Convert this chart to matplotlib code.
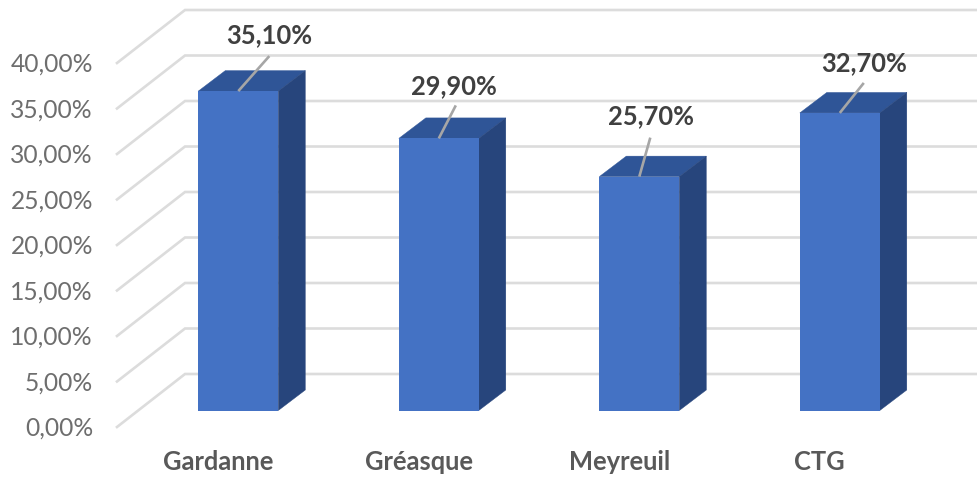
import matplotlib
matplotlib.use("Agg")
import matplotlib.pyplot as plt
from matplotlib.patches import Polygon

categories = ["Gardanne", "Gréasque", "Meyreuil", "CTG"]
values = [35.1, 29.9, 25.7, 32.7]
value_labels = ["35,10%", "29,90%", "25,70%", "32,70%"]
ticks = [0, 5, 10, 15, 20, 25, 30, 35, 40]
tick_labels = ["0,00%", "5,00%", "10,00%", "15,00%", "20,00%", "25,00%", "30,00%", "35,00%", "40,00%"]

W, H = 977, 478
PX_X = 200.5          # pixels per category
PX_Y = 9.1            # pixels per percent
X0, Y0 = 238.3, 410.5  # pixel position of first category at 0 %
FONT = "Lato"

fig = plt.figure(figsize=(W / 100, H / 100), dpi=100, facecolor="white")
ax = fig.add_axes([0, 0, 1, 1])
ax.set_xlim((0 - X0) / PX_X, (W - X0) / PX_X)
ax.set_ylim((Y0 - H) / PX_Y, Y0 / PX_Y)
ax.axis("off")

dx = 27 / PX_X
dy = 20.5 / PX_Y
width = 80 / PX_X
back_shift = (410.5 - 374) / PX_Y
left_shift = (410.5 - 427) / PX_Y
left_x = (117 - X0) / PX_X
corner_x = (185 - X0) / PX_X
right_x = (W - X0) / PX_X

GRID = "#dcdcdc"
for t, lab in zip(ticks, tick_labels):
    ax.plot([left_x, corner_x, right_x], [t + left_shift, t + back_shift, t + back_shift],
            color=GRID, lw=1.9, zorder=1, solid_joinstyle="miter")
    ax.text((93 - X0) / PX_X, t + left_shift - 1.5 / PX_Y, lab, ha="right", va="center",
            fontsize=17.7, color="#6e6e6e", family=FONT, zorder=5)

FRONT, TOP, SIDE = "#4472c4", "#2f5597", "#27457c"
for i, v in enumerate(values):
    l, r = i - width / 2, i + width / 2
    ax.add_patch(Polygon([(l, v), (r, v), (r + dx, v + dy), (l + dx, v + dy)], closed=True,
                         fc=TOP, ec=TOP, lw=0.3, zorder=2))
    ax.add_patch(Polygon([(r, 0), (r + dx, dy), (r + dx, v + dy), (r, v)], closed=True,
                         fc=SIDE, ec=SIDE, lw=0.3, zorder=2))
ax.bar(range(len(values)), values, width=width, color=FRONT, zorder=3, linewidth=0)

leader_offsets = [(31, 35), (17, 33), (11, 39), (24, 30)]
label_offsets = [(31, 56), (15, 52), (12, 60), (24, 50)]
for i, v in enumerate(values):
    lx, ly = leader_offsets[i]
    ax.plot([i, i + lx / PX_X], [v, v + ly / PX_Y], color="#a6a6a6", lw=1.9, zorder=4,
            solid_capstyle="butt")
    ox, oy = label_offsets[i]
    ax.text(i + ox / PX_X, v + oy / PX_Y, value_labels[i], ha="center", va="center",
            fontsize=18.4, fontweight="bold", color="#404040", family=FONT, zorder=5)

for i, c in enumerate(categories):
    ax.text(i + (-20) / PX_X, (Y0 - 461.5) / PX_Y, c, ha="center", va="center",
            fontsize=18.4, fontweight="bold", color="#595959", family=FONT, zorder=5)

fig.savefig("out.png", dpi=100, facecolor="white")
